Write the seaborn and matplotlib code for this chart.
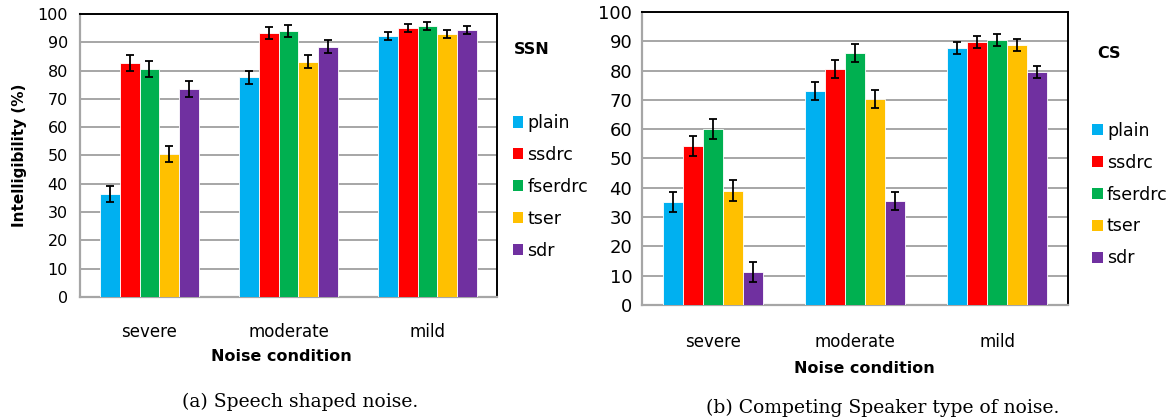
import numpy as np
import pandas as pd
import matplotlib
matplotlib.use("Agg")
import matplotlib.pyplot as plt
import seaborn as sns
from matplotlib.patches import Patch

conditions = ["severe", "moderate", "mild"]
methods = ["plain", "ssdrc", "fserdrc", "tser", "sdr"]
colors = ["#00B0F0", "#FF0000", "#00B050", "#FFC000", "#7030A0"]

# speech shaped noise (SSN), rows = methods, cols = conditions
ssn_mean = {
    "plain":   [36.4, 77.7, 92.2],
    "ssdrc":   [82.7, 93.2, 95.0],
    "fserdrc": [80.5, 93.9, 95.8],
    "tser":    [50.5, 83.1, 93.0],
    "sdr":     [73.5, 88.4, 94.2],
}
ssn_err = {
    "plain":   [2.8, 2.3, 1.3],
    "ssdrc":   [2.8, 2.2, 1.4],
    "fserdrc": [2.8, 2.2, 1.4],
    "tser":    [2.8, 2.3, 1.4],
    "sdr":     [2.8, 2.3, 1.4],
}
# competing speaker (CS)
cs_mean = {
    "plain":   [35.2, 73.1, 87.8],
    "ssdrc":   [54.3, 80.6, 89.8],
    "fserdrc": [60.0, 85.9, 90.4],
    "tser":    [39.0, 70.3, 88.7],
    "sdr":     [11.2, 35.6, 79.6],
}
cs_err = {
    "plain":   [3.4, 3.1, 2.0],
    "ssdrc":   [3.5, 3.1, 2.0],
    "fserdrc": [3.5, 3.1, 2.0],
    "tser":    [3.5, 3.1, 2.0],
    "sdr":     [3.5, 3.1, 2.0],
}

sans = "DejaVu Sans"
serif = "DejaVu Serif"


def to_frame(mean, err):
    rows = []
    for m in methods:
        for i, c in enumerate(conditions):
            rows.append({"condition": c, "method": m, "value": mean[m][i], "err": err[m][i]})
    return pd.DataFrame(rows)


def draw(ax, df, tag, tag_xy, label_pad, xlab_xy, leg_xy, ysize, ypad, ylen):
    sns.barplot(data=df, x="condition", y="value", hue="method", order=conditions,
                hue_order=methods, palette=colors, saturation=1, width=0.71, errorbar=None,
                edgecolor="white", linewidth=0.6, legend=False, ax=ax, zorder=3)
    # error bars from the bar positions seaborn made
    for cont, m in zip(ax.containers, methods):
        sub = df[df.method == m].set_index("condition").loc[conditions]
        xs = [p.get_x() + p.get_width() / 2 for p in cont.patches]
        ax.errorbar(xs, sub["value"].values, yerr=sub["err"].values, fmt="none",
                    ecolor="black", elinewidth=1.3, capsize=2.8, capthick=1.3, zorder=4)
    ax.set_ylim(0, 100)
    ax.set_xlim(-0.5, 2.5)
    ax.set_yticks(range(0, 101, 10))
    ax.yaxis.grid(True, color="#A6A6A6", linewidth=1.4, zorder=0)
    ax.xaxis.grid(False)
    ax.set_axisbelow(True)
    ax.set_xticks([-0.5, 0.5, 1.5, 2.5])
    ax.set_xticklabels([])
    ax.set_xticks([0, 1, 2], minor=True)
    ax.set_xticklabels(conditions, minor=True, fontsize=12, family=sans)
    ax.tick_params(axis="x", which="minor", length=0, pad=label_pad, labelcolor="black")
    ax.tick_params(axis="x", which="major", length=6, width=1.4, color="#A6A6A6")
    ax.tick_params(axis="y", length=ylen, width=1.4, color="#A6A6A6", labelsize=ysize,
                   pad=ypad, labelcolor="black")
    for t in ax.get_yticklabels():
        t.set_family(sans)
    for s in ["left", "bottom"]:
        ax.spines[s].set_color("#A6A6A6")
        ax.spines[s].set_linewidth(1.6)
    for s in ["top", "right"]:
        ax.spines[s].set_color("black")
        ax.spines[s].set_linewidth(1.4)
    ax.set_ylabel("")
    ax.set_xlabel("Noise condition", fontsize=11.5, fontweight="bold", family=sans,
                  color="black")
    ax.xaxis.set_label_coords(*xlab_xy)
    ax.text(tag_xy[0], tag_xy[1], tag, transform=ax.transAxes, fontsize=11.5,
            fontweight="bold", family=sans, va="center", color="black")
    handles = [Patch(facecolor=c, edgecolor="none") for c in colors]
    leg = ax.legend(handles, methods, loc="center left", bbox_to_anchor=leg_xy,
                    frameon=False, handlelength=0.6, handleheight=0.6, handletextpad=0.25,
                    labelspacing=0.8, prop={"family": sans, "size": 12.5})
    for t in leg.get_texts():
        t.set_color("black")


sns.set_style("white")
fig = plt.figure(figsize=(11.73, 4.19), dpi=100)
ax1 = fig.add_axes([0.0682, 0.2912, 0.3555, 0.6754])
ax2 = fig.add_axes([0.5473, 0.2721, 0.3632, 0.6993])

draw(ax1, to_frame(ssn_mean, ssn_err), "SSN", (1.041, 0.873), 19, (0.482, -0.185),
     (1.0, 0.389), 11.5, 4.5, 4.3)
draw(ax2, to_frame(cs_mean, cs_err), "CS", (1.068, 0.860), 20.5, (0.523, -0.19),
     (1.02, 0.377), 13, 2, 5)

ax1.set_ylabel("Intelligibility (%)", fontsize=11, fontweight="bold", family=sans,
               color="black")
ax1.yaxis.set_label_coords(-0.127, 0.5)

fig.text(300 / 1173, 1 - 402 / 419, "(a) Speech shaped noise.", ha="center", va="center",
         fontsize=13.5, family=serif, color="black")
fig.text(883 / 1173, 1 - 408 / 419, "(b) Competing Speaker type of noise.", ha="center",
         va="center", fontsize=13.5, family=serif, color="black")

fig.savefig("out.png", dpi=100)
